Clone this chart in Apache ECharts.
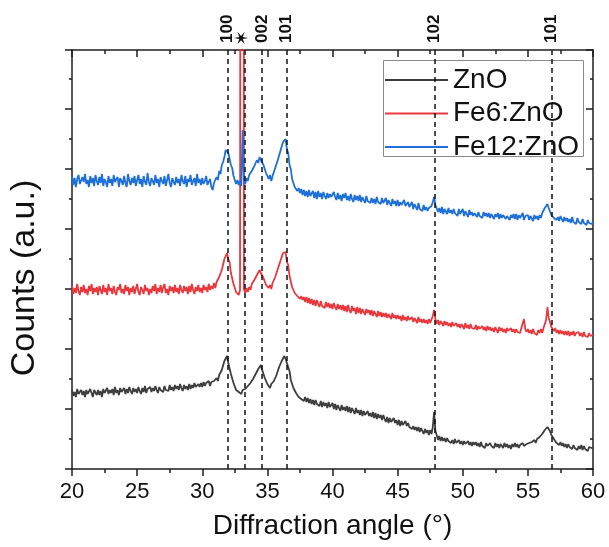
<!DOCTYPE html>
<html>
<head>
<meta charset="utf-8">
<script src="https://cdn.jsdelivr.net/npm/echarts@6/dist/echarts.min.js"></script>
<style>
  html, body { margin: 0; padding: 0; background: #fff; }
  #chart { width: 609px; height: 547px; }
</style>
</head>
<body>
<div id="chart"></div>
<script>
// XRD patterns, 2θ from 20° to 60° in 0.1° steps (counts, arbitrary units, offset per sample)
const startAngle = 20.0;
const stepAngle = 0.1;

const seriesNames = ['ZnO', 'Fe6:ZnO', 'Fe12:ZnO'];

const countsZnO = [
  790, 730, 770, 720, 800, 750, 730, 790, 740, 780,
  720, 790, 750, 730, 800, 760, 720, 790, 770, 740,
  790, 740, 780, 720, 800, 760, 740, 810, 750, 790,
  760, 800, 740, 820, 760, 790, 740, 810, 770, 750,
  810, 750, 800, 760, 820, 780, 750, 810, 770, 800,
  760, 820, 780, 750, 810, 770, 830, 760, 800, 780,
  820, 770, 810, 780, 830, 790, 760, 820, 790, 810,
  770, 830, 790, 810, 780, 840, 790, 820, 780, 840,
  800, 830, 790, 850, 810, 780, 840, 800, 830, 790,
  850, 800, 840, 810, 860, 820, 800, 850, 820, 860,
  820, 870, 830, 860, 840, 880, 830, 870, 850, 880,
  860, 910, 880, 940, 930, 990, 1000, 1080, 1090, 1130,
  1060, 1040, 950, 930, 860, 860, 790, 810, 770, 790,
  750, 790, 770, 800, 780, 830, 820, 860, 860, 900,
  890, 950, 940, 1000, 990, 1040, 990, 980, 910, 910,
  850, 860, 810, 850, 840, 880, 880, 940, 950, 1020,
  1020, 1080, 1090, 1130, 1100, 1100, 1020, 980, 890, 880,
  810, 810, 760, 770, 720, 740, 700, 720, 680, 720,
  670, 710, 660, 700, 650, 690, 640, 690, 650, 670,
  630, 680, 620, 670, 630, 660, 610, 670, 620, 640,
  660, 600, 650, 590, 640, 610, 580, 640, 590, 620,
  580, 630, 570, 620, 560, 610, 580, 550, 610, 560,
  590, 540, 590, 530, 580, 540, 520, 580, 530, 560,
  520, 570, 510, 560, 500, 550, 510, 540, 490, 540,
  500, 470, 520, 460, 510, 470, 450, 510, 460, 490,
  440, 490, 430, 480, 440, 420, 480, 430, 460, 420,
  440, 400, 430, 390, 420, 380, 420, 370, 410, 380,
  350, 400, 360, 390, 340, 390, 350, 420, 570, 380,
  340, 290, 330, 280, 320, 280, 310, 270, 310, 280,
  300, 260, 290, 250, 300, 260, 240, 290, 250, 280,
  240, 280, 250, 230, 280, 240, 270, 230, 270, 240,
  270, 230, 260, 220, 270, 230, 250, 210, 260, 230,
  220, 260, 230, 250, 210, 260, 220, 250, 210, 250,
  240, 210, 260, 220, 250, 210, 240, 200, 250, 220,
  260, 220, 250, 210, 240, 220, 260, 230, 210, 250,
  230, 260, 240, 270, 250, 290, 260, 300, 290, 320,
  310, 350, 340, 390, 380, 420, 400, 380, 340, 330,
  300, 300, 260, 280, 240, 270, 230, 260, 220, 250,
  210, 250, 220, 240, 200, 240, 210, 230, 190, 230,
  200, 240, 190, 230, 200, 220, 180, 220, 200, 210,
  210
];

const countsFe6 = [
  1830, 1750, 1810, 1760, 1850, 1780, 1740, 1820, 1770, 1840,
  1760, 1800, 1740, 1830, 1780, 1850, 1750, 1810, 1770, 1820,
  1740, 1830, 1790, 1750, 1840, 1770, 1810, 1740, 1850, 1780,
  1810, 1750, 1830, 1770, 1740, 1820, 1790, 1850, 1760, 1800,
  1750, 1840, 1780, 1820, 1740, 1810, 1770, 1830, 1750, 1800,
  1850, 1770, 1740, 1820, 1790, 1750, 1840, 1780, 1810, 1740,
  1800, 1760, 1830, 1780, 1850, 1750, 1810, 1770, 1840, 1760,
  1820, 1850, 1760, 1800, 1740, 1830, 1780, 1820, 1760, 1840,
  1770, 1810, 1750, 1840, 1790, 1760, 1830, 1780, 1820, 1750,
  1830, 1770, 1850, 1790, 1750, 1820, 1780, 1840, 1770, 1810,
  1760, 1840, 1790, 1820, 1770, 1850, 1790, 1830, 1800, 1860,
  1810, 1870, 1850, 1920, 1910, 1990, 2000, 2100, 2120, 2160,
  2100, 2070, 1960, 1940, 1850, 1840, 1770, 1790, 1740, 1790,
  1780, 30000, 1800, 1760, 1810, 1770, 1820, 1790, 1850, 1830,
  1890, 1870, 1940, 1930, 1990, 1960, 1980, 1910, 1900, 1840,
  1860, 1810, 1840, 1800, 1860, 1850, 1920, 1910, 2000, 2000,
  2080, 2080, 2160, 2140, 2170, 2070, 2040, 1930, 1910, 1820,
  1820, 1760, 1780, 1730, 1750, 1700, 1730, 1690, 1720, 1670,
  1720, 1660, 1710, 1650, 1700, 1640, 1690, 1630, 1690, 1650,
  1620, 1680, 1630, 1650, 1610, 1670, 1620, 1660, 1610, 1650,
  1600, 1660, 1620, 1590, 1650, 1600, 1640, 1590, 1640, 1580,
  1630, 1570, 1640, 1590, 1560, 1630, 1580, 1610, 1550, 1620,
  1560, 1610, 1550, 1600, 1570, 1540, 1600, 1560, 1590, 1540,
  1590, 1530, 1580, 1550, 1520, 1580, 1530, 1570, 1520, 1560,
  1520, 1560, 1510, 1550, 1530, 1500, 1560, 1510, 1540, 1500,
  1540, 1500, 1530, 1480, 1540, 1490, 1520, 1480, 1530, 1490,
  1480, 1520, 1470, 1510, 1490, 1460, 1520, 1470, 1500, 1460,
  1500, 1460, 1490, 1450, 1500, 1460, 1480, 1530, 1590, 1500,
  1450, 1490, 1440, 1480, 1460, 1430, 1480, 1440, 1470, 1430,
  1460, 1420, 1470, 1430, 1410, 1460, 1420, 1450, 1410, 1450,
  1430, 1400, 1460, 1410, 1440, 1400, 1450, 1410, 1430, 1400,
  1440, 1390, 1430, 1400, 1380, 1430, 1390, 1420, 1380, 1430,
  1390, 1420, 1380, 1410, 1370, 1420, 1390, 1360, 1420, 1380,
  1410, 1370, 1400, 1360, 1410, 1380, 1360, 1410, 1370, 1400,
  1360, 1400, 1370, 1390, 1360, 1410, 1430, 1500, 1400, 1370,
  1400, 1360, 1390, 1350, 1400, 1360, 1380, 1340, 1390, 1360,
  1400, 1360, 1410, 1430, 1490, 1620, 1510, 1470, 1420, 1400,
  1380, 1410, 1360, 1390, 1350, 1390, 1350, 1380, 1340, 1380,
  1340, 1380, 1330, 1370, 1340, 1380, 1330, 1360, 1340, 1370,
  1330, 1360, 1320, 1370, 1330, 1350, 1320, 1360, 1330, 1350,
  1340
];

const countsFe12 = [
  2930, 2840, 2910, 2820, 2900, 2940, 2850, 2830, 2920, 2870,
  2950, 2850, 2890, 2820, 2930, 2860, 2910, 2830, 2940, 2880,
  2840, 2920, 2860, 2950, 2830, 2900, 2870, 2820, 2930, 2860,
  2900, 2830, 2940, 2870, 2850, 2920, 2820, 2910, 2880, 2840,
  2930, 2860, 2820, 2950, 2880, 2840, 2910, 2860, 2930, 2830,
  2890, 2940, 2850, 2900, 2820, 2930, 2870, 2840, 2960, 2870,
  2830, 2910, 2880, 2840, 2940, 2860, 2900, 2820, 2920, 2880,
  2850, 2930, 2830, 2890, 2950, 2860, 2820, 2910, 2870, 2840,
  2920, 2860, 2900, 2830, 2940, 2880, 2850, 2930, 2820, 2900,
  2870, 2940, 2840, 2880, 2910, 2830, 2950, 2860, 2900, 2840,
  2910, 2850, 2880, 2930, 2840, 2870, 2900, 2820, 2790, 2860,
  2840, 2920, 2890, 2980, 2950, 3040, 3070, 3120, 3190, 3210,
  3160, 3140, 3040, 3010, 2930, 2920, 2850, 2890, 2840, 2880,
  2830, 3390, 2900, 2850, 2910, 2880, 2940, 2920, 2980, 2970,
  3030, 3010, 3090, 3060, 3120, 3090, 3110, 3040, 3050, 2960,
  2980, 2900, 2940, 2880, 2930, 2920, 3010, 2990, 3090, 3080,
  3180, 3190, 3270, 3260, 3300, 3200, 3160, 3040, 3000, 2900,
  2890, 2820, 2840, 2780, 2810, 2760, 2800, 2740, 2790, 2730,
  2780, 2720, 2790, 2730, 2750, 2780, 2710, 2770, 2700, 2780,
  2720, 2760, 2700, 2770, 2730, 2700, 2760, 2710, 2750, 2720,
  2700, 2770, 2720, 2690, 2760, 2700, 2740, 2680, 2750, 2710,
  2760, 2690, 2730, 2680, 2750, 2700, 2670, 2740, 2690, 2730,
  2680, 2740, 2670, 2720, 2690, 2660, 2730, 2680, 2700, 2660,
  2710, 2660, 2700, 2650, 2720, 2670, 2690, 2650, 2710, 2660,
  2650, 2710, 2640, 2690, 2670, 2630, 2700, 2650, 2680, 2630,
  2690, 2630, 2670, 2640, 2620, 2690, 2630, 2610, 2670, 2620,
  2610, 2670, 2600, 2650, 2630, 2590, 2660, 2600, 2620, 2580,
  2640, 2590, 2620, 2580, 2610, 2590, 2630, 2670, 2720, 2640,
  2630, 2570, 2610, 2560, 2620, 2550, 2600, 2580, 2550, 2610,
  2560, 2590, 2550, 2600, 2560, 2580, 2530, 2600, 2550, 2570,
  2600, 2530, 2580, 2550, 2520, 2590, 2540, 2570, 2530, 2560,
  2580, 2520, 2570, 2530, 2550, 2510, 2570, 2530, 2560, 2520,
  2560, 2510, 2550, 2570, 2500, 2550, 2520, 2560, 2500, 2550,
  2510, 2540, 2560, 2500, 2530, 2550, 2490, 2540, 2510, 2550,
  2500, 2550, 2490, 2540, 2510, 2500, 2560, 2490, 2530, 2510,
  2540, 2490, 2530, 2510, 2480, 2540, 2500, 2530, 2490, 2540,
  2510, 2560, 2540, 2610, 2600, 2650, 2610, 2600, 2540, 2560,
  2510, 2530, 2490, 2520, 2480, 2530, 2500, 2470, 2520, 2480,
  2510, 2470, 2500, 2460, 2520, 2470, 2490, 2450, 2510, 2470,
  2480, 2450, 2500, 2460, 2480, 2440, 2490, 2460, 2480, 2450,
  2470
];

// ZnO wurtzite reflections (dashed guides) and the labels written above the frame
const reflectionAngles = [31.95, 33.25, 34.6, 36.45, 47.85, 56.8];
const labelAngles = [31.95, 33.1, 34.6, 36.45, 47.85, 56.8];
const labelTexts = ['100', '\u2736', '002', '101', '102', '101'];

const lineColors = ['#3e3e3e', '#e8383d', '#1f6fd8'];

const angles = countsFe12.map((_, i) => +(startAngle + i * stepAngle).toFixed(1));
const toPairs = arr => arr.map((v, i) => [angles[i], v]);

const yMin = 0, yMax = 4190, yStep = 600;
const fontFamily = 'Arial, "Liberation Sans", Helvetica, sans-serif';
const frameColor = '#1e1e1e';

const frameAxis = {
  axisLine: { show: true, onZero: false, lineStyle: { color: frameColor, width: 1.5 } },
  splitLine: { show: false }
};

const chart = echarts.init(document.getElementById('chart'), null, { renderer: 'canvas' });

chart.setOption({
  animation: false,
  backgroundColor: '#ffffff',
  grid: { left: 72, right: 16, top: 50, bottom: 78 },
  legend: {
    data: seriesNames,
    orient: 'vertical',
    left: 383,
    top: 65,
    icon: 'rect',
    itemWidth: 63,
    itemHeight: 2,
    itemGap: 3.5,
    padding: [0, 4, 0, 2],
    textStyle: { fontSize: 28, color: '#111', fontFamily, lineHeight: 30 }
  },
  xAxis: [
    Object.assign({
      type: 'value', position: 'bottom', min: 20, max: 60, interval: 5,
      name: 'Diffraction angle (°)', nameLocation: 'middle', nameGap: 43,
      nameTextStyle: { fontSize: 28, color: '#111', fontFamily },
      axisTick: { show: true, length: 7, lineStyle: { color: frameColor, width: 1.5 } },
      minorTick: { show: true, splitNumber: 2, length: 4, lineStyle: { color: frameColor, width: 1.5 } },
      axisLabel: { fontSize: 22, color: '#111', margin: 12, fontFamily }
    }, frameAxis),
    Object.assign({
      type: 'value', position: 'top', min: 20, max: 60, interval: 5,
      axisTick: { show: true, inside: true, length: 7, lineStyle: { color: frameColor, width: 1.5 } },
      minorTick: { show: true, splitNumber: 2, length: 4, lineStyle: { color: frameColor, width: 1.5 } },
      axisLabel: { show: false }
    }, frameAxis)
  ],
  yAxis: [
    Object.assign({
      type: 'value', position: 'left', min: yMin, max: yMax, interval: yStep,
      name: 'Counts (a.u.)', nameLocation: 'middle', nameGap: 30,
      nameTextStyle: { fontSize: 34, color: '#111', fontFamily, padding: [0, 37, 0, 0] },
      axisTick: { show: true, length: 7, lineStyle: { color: frameColor, width: 1.5 } },
      minorTick: { show: true, splitNumber: 2, length: 3, lineStyle: { color: frameColor, width: 1.5 } },
      axisLabel: { show: false }
    }, frameAxis),
    Object.assign({
      type: 'value', position: 'right', min: yMin, max: yMax, interval: yStep,
      axisTick: { show: true, inside: true, length: 7, lineStyle: { color: frameColor, width: 1.5 } },
      minorTick: { show: true, splitNumber: 2, length: 3, lineStyle: { color: frameColor, width: 1.5 } },
      axisLabel: { show: false }
    }, frameAxis)
  ],
  series: [
    {
      name: seriesNames[0], type: 'line', data: toPairs(countsZnO),
      symbol: 'none', clip: true, color: lineColors[0],
      lineStyle: { width: 1.8, color: lineColors[0] }
    },
    {
      name: seriesNames[1], type: 'line', data: toPairs(countsFe6),
      symbol: 'none', clip: true, color: lineColors[1],
      lineStyle: { width: 1.8, color: lineColors[1] }
    },
    {
      name: seriesNames[2], type: 'line', data: toPairs(countsFe12),
      symbol: 'none', clip: true, color: lineColors[2],
      lineStyle: { width: 1.8, color: lineColors[2] },
      // dashed guides at the reflection positions
      markLine: {
        silent: true, symbol: ['none', 'none'], animation: false,
        label: { show: false },
        lineStyle: { type: [5, 4], color: '#111', width: 1.5 },
        emphasis: { disabled: true },
        data: reflectionAngles.map(a => ({ xAxis: a }))
      }
    }
  ]
});

// Miller indices standing on the top frame, plus the legend frame
const frameTop = chart.convertToPixel({ yAxisIndex: 0 }, yMax);
const indexTexts = labelAngles.map((a, i) => {
  const isStar = labelTexts[i] === '\u2736';
  return {
    type: 'text',
    x: chart.convertToPixel({ xAxisIndex: 0 }, a),
    y: frameTop - (isStar ? 4 : 7),
    rotation: Math.PI / 2,
    silent: true,
    z: 10,
    style: {
      text: labelTexts[i],
      fill: '#111',
      fontSize: isStar ? 19 : 17,
      fontWeight: isStar ? 'normal' : 'bold',
      fontFamily: isStar ? '"DejaVu Sans", sans-serif' : fontFamily,
      align: 'left',
      verticalAlign: 'middle'
    }
  };
});

chart.setOption({
  graphic: indexTexts.concat([{
    type: 'rect',
    silent: true,
    z: 1,
    shape: { x: 383.5, y: 60.5, width: 200, height: 96 },
    style: { fill: '#ffffff', stroke: '#8a8a8a', lineWidth: 1 }
  }])
});
</script>
</body>
</html>
